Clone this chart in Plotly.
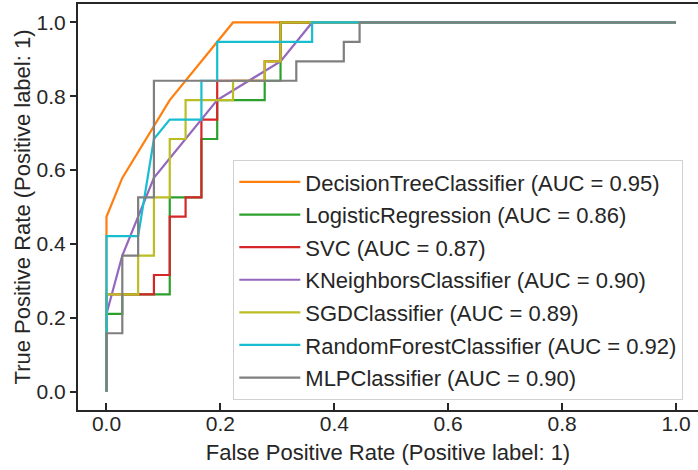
import plotly.graph_objects as go

# ---- data (ROC curves) ----
names = ["DecisionTreeClassifier", "LogisticRegression", "SVC", "KNeighborsClassifier",
         "SGDClassifier", "RandomForestClassifier", "MLPClassifier"]
aucs = ["0.95", "0.86", "0.87", "0.90", "0.89", "0.92", "0.90"]
colors = ["#ff7f0e", "#2ca02c", "#d62728", "#9467bd", "#bcbd22", "#17becf", "#7f7f7f"]

dt_fpr = [0, 0, 0.0278, 0.1111, 0.2222, 1.0]
dt_tpr = [0, 0.4737, 0.5789, 0.7895, 1.0, 1.0]

lr_fpr = [0, 0, 0.0278, 0.0278, 0.1111, 0.1111, 0.1667, 0.1667, 0.1944, 0.1944, 0.2778, 0.2778, 0.3056, 0.3056, 1.0]
lr_tpr = [0, 0.2105, 0.2105, 0.2632, 0.2632, 0.5263, 0.5263, 0.6842, 0.6842, 0.7895, 0.7895, 0.8421, 0.8421, 1.0, 1.0]

svc_fpr = [0, 0, 0.0833, 0.0833, 0.1111, 0.1111, 0.1389, 0.1389, 0.1667, 0.1667, 0.1944, 0.1944, 0.2778, 0.2778, 0.3056, 0.3056, 1.0]
svc_tpr = [0, 0.2632, 0.2632, 0.3158, 0.3158, 0.4737, 0.4737, 0.5263, 0.5263, 0.7368, 0.7368, 0.8421, 0.8421, 0.8947, 0.8947, 1.0, 1.0]

knn_fpr = [0, 0, 0.0278, 0.0833, 0.1944, 0.3056, 0.3611, 1.0]
knn_tpr = [0, 0.2105, 0.3684, 0.5789, 0.7895, 0.8947, 1.0, 1.0]

sgd_fpr = [0, 0, 0.0556, 0.0556, 0.0833, 0.0833, 0.1111, 0.1111, 0.1389, 0.1389, 0.2222, 0.2222, 0.2778, 0.2778, 0.3056, 0.3056, 1.0]
sgd_tpr = [0, 0.2632, 0.2632, 0.3684, 0.3684, 0.5263, 0.5263, 0.6842, 0.6842, 0.7895, 0.7895, 0.8421, 0.8421, 0.8947, 0.8947, 1.0, 1.0]

rf_fpr = [0, 0, 0.0556, 0.0833, 0.1111, 0.1667, 0.1667, 0.1944, 0.1944, 0.3611, 0.3611, 1.0]
rf_tpr = [0, 0.4211, 0.4211, 0.6842, 0.7368, 0.7368, 0.8421, 0.8421, 0.9474, 0.9474, 1.0, 1.0]

mlp_fpr = [0, 0, 0.0278, 0.0278, 0.0556, 0.0556, 0.0833, 0.0833, 0.3333, 0.3333, 0.4167, 0.4167, 0.4444, 0.4444, 1.0]
mlp_tpr = [0, 0.1579, 0.1579, 0.3684, 0.3684, 0.5263, 0.5263, 0.8421, 0.8421, 0.8947, 0.8947, 0.9474, 0.9474, 1.0, 1.0]

tick_vals = [0.0, 0.2, 0.4, 0.6, 0.8, 1.0]
tick_text = ["0.0", "0.2", "0.4", "0.6", "0.8", "1.0"]

curves = [(dt_fpr, dt_tpr), (lr_fpr, lr_tpr), (svc_fpr, svc_tpr), (knn_fpr, knn_tpr),
          (sgd_fpr, sgd_tpr), (rf_fpr, rf_tpr), (mlp_fpr, mlp_tpr)]

FONT = "Liberation Sans, Arial, sans-serif"
INK = "#262626"

fig = go.Figure()
for i, ((fx, ty), name, auc, col) in enumerate(zip(curves, names, aucs, colors)):
    fig.add_trace(go.Scatter(
        x=fx, y=ty, mode="lines",
        name=f"{name} (AUC = {auc})",
        legendgroup=f"g{i}",
        line=dict(color=col, width=2.2),
    ))

fig.update_layout(
    width=698, height=470,
    margin=dict(l=78, r=0, t=4, b=60),
    paper_bgcolor="white", plot_bgcolor="white",
    font=dict(family=FONT, color=INK, size=22),
    showlegend=True,
    legend=dict(
        x=0.25, y=0.025, xanchor="left", yanchor="bottom",
        bgcolor="white", bordercolor="#d0d0d0", borderwidth=1.3,
        font=dict(family=FONT, size=22, color=INK),
        traceorder="grouped", tracegroupgap=1, itemwidth=61,
    ),
    xaxis=dict(
        range=[-0.05, 1.0386], tickvals=tick_vals, ticktext=tick_text,
        showgrid=False, zeroline=False, showline=True, linecolor=INK, linewidth=2,
        mirror=True, ticks="inside", ticklen=7, tickwidth=1.8, tickcolor=INK,
        tickfont=dict(size=21), ticklabelstandoff=-6,
        title=dict(text="False Positive Rate (Positive label: 1)", font=dict(size=22), standoff=10),
    ),
    yaxis=dict(
        range=[-0.05, 1.05], tickvals=tick_vals, ticktext=tick_text,
        showgrid=False, zeroline=False, showline=True, linecolor=INK, linewidth=2,
        ticks="outside", ticklen=6, tickwidth=1.8, tickcolor=INK,
        tickfont=dict(size=21),
        title=dict(text="True Positive Rate (Positive label: 1)", font=dict(size=22), standoff=0),
    ),
)

fig.write_html("out.html")
